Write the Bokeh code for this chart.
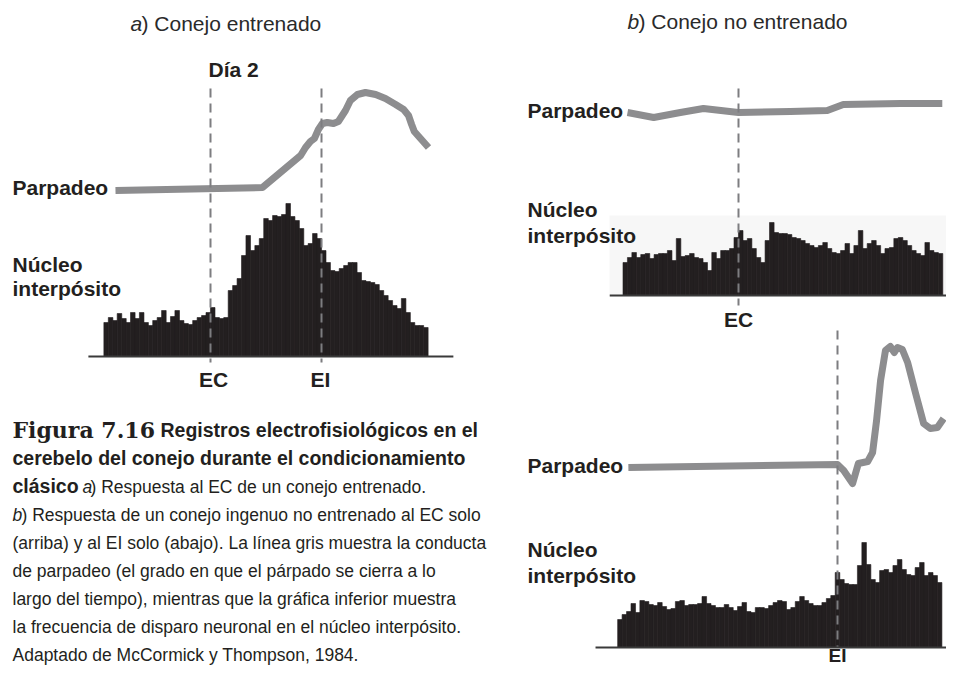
import numpy as np
from bokeh.plotting import figure
from bokeh.models import Range1d
from bokeh.core.properties import value
from bokeh.embed import file_html
from bokeh.resources import INLINE

# ------------------------------------------------------------------ data
BIN_MS = 10  # histogram bin width (ms)

# a) trained rabbit, CS at 0 ms, US at 250 ms
a_events_ms = [0, 250]
a_event_labels = ["EC", "EI"]
a_blink_t = [-214, 117, 203, 214, 225, 234, 243, 252, 263, 277, 288, 304,
             315, 331, 349, 372, 394, 417, 435, 446, 453, 459, 471, 491]
a_blink_amp = [0, 0.3, 3.5, 4.3, 4.9, 5.2, 6.1, 6.7, 6.8, 6.7, 6.9, 8.0,
               9.0, 9.6, 9.8, 9.6, 9.2, 8.6, 8.1, 7.5, 6.6, 5.9, 5.3, 4.3]
a_hist_start_ms = -240
a_hist_rate = [17, 19.5, 18, 21.5, 19, 17, 22, 19, 22, 17,
               15.5, 18, 19.5, 23, 17, 20, 23, 18, 16.5, 16,
               18, 19.5, 20.5, 22, 24.5, 19.5, 19, 19.5, 33, 35.5,
               39, 50.5, 60.5, 53, 55.5, 59, 69, 68, 70.5, 70,
               71, 76.5, 70, 68, 64, 55.5, 56.5, 61.5, 59, 53,
               47, 43, 42.5, 44, 45.5, 47, 47, 42, 38, 37.5,
               37, 36, 33, 30.5, 28, 25.5, 24, 29, 22, 17,
               15.5, 15.5, 14.5]

# b) untrained rabbit, CS alone (top): CS at 0 ms
bt_events_ms = [0]
bt_event_labels = ["EC"]
bt_blink_t = [-250, -191, -131, -79, 0, 117, 200, 236, 365, 459]
bt_blink_amp = [0, -0.5, 0, 0.4, 0, 0.1, 0.2, 0.8, 0.9, 0.9]
bt_hist_start_ms = -260
bt_hist_rate = [16.5, 19, 21.5, 19, 20.5, 21, 18.5, 20.5, 21, 21,
                22.5, 17.5, 28.5, 19.5, 20, 21, 19, 18.5, 16.5, 12.5,
                21.5, 18.5, 22.5, 22.5, 23.5, 29, 32.5, 27.5, 28.5, 23.5,
                19, 16.5, 27.5, 36.5, 31.5, 31, 31, 30.5, 29, 28.5,
                27.5, 26, 25, 24, 25, 26.5, 23.5, 21.5, 21, 22.5,
                26, 21, 25, 32.5, 23.5, 26, 27.5, 25, 21, 23.5,
                24, 28.5, 29, 27.5, 25, 22.5, 21, 20, 26.5, 22.5,
                21.5, 21]

# b) untrained rabbit, US alone (bottom): US at 0 ms
bb_events_ms = [0]
bb_event_labels = ["EI"]
bb_blink_t = [-471, 0, 14, 34, 47, 68, 79, 88, 97, 108, 119, 128, 135,
              146, 158, 176, 194, 209, 225, 239]
bb_blink_amp = [0, 0.3, -0.3, -1.6, 0.4, 0.6, 1.5, 4.7, 8.7, 11.7, 12.1,
                11.5, 12.0, 11.8, 10.5, 7.4, 4.4, 3.9, 4.0, 4.9]
bb_hist_start_ms = -495
bb_hist_rate = [14, 16.5, 18, 22, 17.5, 23.5, 23, 21.5, 21, 22.5,
                20.5, 19, 19.5, 23, 23.5, 21, 21.5, 21.5, 22, 25.5,
                22, 21, 20, 20, 21.5, 20, 18.5, 20.5, 22.5, 18,
                17.5, 20, 20, 19.5, 21, 22.5, 23.5, 23, 19, 20,
                23, 25.5, 23.5, 22, 21, 21, 22.5, 24.5, 26, 37.5,
                34, 32, 31.5, 31.5, 41, 52.5, 41.5, 34, 32.5, 38.5,
                39, 37.5, 41, 44, 39, 36.5, 36, 40, 42.5, 36,
                37.5, 36, 32.5]

title_a = ("a", ") Conejo entrenado")
title_b = ("b", ") Conejo no entrenado")
day_label = "Día 2"
lbl_blink = "Parpadeo"
lbl_nucleus = ("Núcleo", "interpósito")

caption = [
    [("Figura 7.16", "fig"), ("Registros electrofisiológicos en el", "bold")],
    [("cerebelo del conejo durante el condicionamiento", "bold")],
    [("clásico", "bold"), ("a", "italic"), (") Respuesta al EC de un conejo entrenado.", "normal")],
    [("b", "italic"), (") Respuesta de un conejo ingenuo no entrenado al EC solo", "normal")],
    [("(arriba) y al EI solo (abajo). La línea gris muestra la conducta", "normal")],
    [("de parpadeo (el grado en que el párpado se cierra a lo", "normal")],
    [("largo del tiempo), mientras que la gráfica inferior muestra", "normal")],
    [("la frecuencia de disparo neuronal en el núcleo interpósito.", "normal")],
    [("Adaptado de McCormick y Thompson, 1984.", "normal")],
]

# ------------------------------------------------------------------ layout
W, H = 946, 667
PX0, PX1 = 0, W          # picture-pixel span of the frame (x)
PY_TOP, PY_BOT = 0, H    # picture-pixel span of the frame (y)
PX_PER_MS = 111 / 250.0
TEXT_SHIFT = 0.36        # measured baseline offset of svg text, in em

INK = "#231f20"
BLINK = "#8d8d8f"
DASH = "#7d7d80"
SANS = "Liberation Sans"
SERIF = "DejaVu Serif"


def xr(p_zero):
    """time range (ms) so that t=0 sits at picture pixel p_zero"""
    return Range1d((PX0 - p_zero) / PX_PER_MS, (PX1 - p_zero) / PX_PER_MS)


def yr(p_zero, px_per_unit):
    """value range so that 0 sits at picture pixel p_zero (upwards positive)"""
    return Range1d((p_zero - PY_BOT) / px_per_unit, (p_zero - PY_TOP) / px_per_unit)


p = figure(width=W, height=H, x_range=Range1d(PX0, PX1), y_range=Range1d(PY_BOT, PY_TOP),
           x_axis_type=None, y_axis_type=None, output_backend="svg",
           toolbar_location=None, min_border=0, title=None)
p.grid.visible = False
p.outline_line_color = None
p.background_fill_color = "white"
p.border_fill_color = "white"

panels = {
    "a": dict(t0=210, blink0=190, hist0=356, events=a_events_ms, t=a_blink_t, amp=a_blink_amp,
              hstart=a_hist_start_ms, rate=a_hist_rate, base=(-275, 547), dash=(88, 362)),
    "bt": dict(t0=738, blink0=112, hist0=295, events=bt_events_ms, t=bt_blink_t, amp=bt_blink_amp,
               hstart=bt_hist_start_ms, rate=bt_hist_rate, base=(-290, 520), dash=(88, 305)),
    "bb": dict(t0=837, blink0=467, hist0=647, events=bb_events_ms, t=bb_blink_t, amp=bb_blink_amp,
               hstart=bb_hist_start_ms, rate=bb_hist_rate, base=(-545, 300), dash=(330, 646)),
}

# faint scan background behind the top-right histogram
p.quad(left=[609], right=[PX1], top=[215], bottom=[296], fill_color="#f7f7f7", line_color=None)

for name, d in panels.items():
    p.extra_x_ranges["t_" + name] = xr(d["t0"])
    p.extra_y_ranges["b_" + name] = yr(d["blink0"], 10.0)
    p.extra_y_ranges["h_" + name] = yr(d["hist0"], 2.0)

    rate = np.array(d["rate"], dtype=float)
    centers = d["hstart"] + BIN_MS * (np.arange(len(rate)) + 0.5)
    p.vbar(x=centers, top=rate, bottom=0, width=BIN_MS * 1.03, fill_color=INK,
           line_color=INK, line_width=0.6, x_range_name="t_" + name, y_range_name="h_" + name)
    p.line(x=list(d["base"]), y=[0, 0], line_color="#3a3a3a", line_width=2.2,
           x_range_name="t_" + name, y_range_name="h_" + name)
    p.line(x=d["t"], y=d["amp"], line_color=BLINK, line_width=7, line_join="round",
           x_range_name="t_" + name, y_range_name="b_" + name)

for name, d in panels.items():
    n = len(d["events"])
    p.segment(x0=d["events"], x1=d["events"], y0=[d["dash"][0]] * n, y1=[d["dash"][1]] * n,
              line_color=DASH, line_width=2, line_dash="9 6", x_range_name="t_" + name)


def label(x, y, txt, size=21, style="bold", font=SANS, color=INK, align="left"):
    p.text(x=[x], y=[y - TEXT_SHIFT * size], text=[txt], text_font=value(font),
           text_font_size=f"{size}px", text_font_style=style, text_color=color,
           text_align=align, text_baseline="alphabetic")


# titles
label(130, 31, title_a[0], style="italic", color="#2a2a2a")
label(141, 31, title_a[1], style="normal", color="#2a2a2a")
label(627, 29, title_b[0], style="italic", color="#2a2a2a")
label(638, 29, title_b[1], style="normal", color="#2a2a2a")
label(208, 77, day_label)

# row labels
label(12, 195, lbl_blink)
label(12, 272, lbl_nucleus[0])
label(12, 296, lbl_nucleus[1])
label(527, 118, lbl_blink)
label(527, 217, lbl_nucleus[0])
label(527, 243, lbl_nucleus[1])
label(527, 473, lbl_blink)
label(527, 557, lbl_nucleus[0])
label(527, 583, lbl_nucleus[1])

# event labels (below each panel)
label(213, 387, a_event_labels[0], align="center")
label(320, 387, a_event_labels[1], align="center")
label(738, 327, bt_event_labels[0], align="center")
label(837, 662, bb_event_labels[0], size=19, align="center")

# caption
cap_x = {(0, 0): 12, (0, 1): 160, (1, 0): 12, (2, 0): 12, (2, 1): 82, (2, 2): 90,
         (3, 0): 12, (3, 1): 21}
styles = {
    "fig": dict(font=SERIF, style="bold", size=22),
    "bold": dict(font=SANS, style="bold", size=19.5),
    "italic": dict(font=SANS, style="italic", size=17.5),
    "normal": dict(font=SANS, style="normal", size=17.5),
}
for i, line in enumerate(caption):
    y = 437 + 28 * i
    for j, (txt, kind) in enumerate(line):
        x = cap_x.get((i, j), 12)
        s = styles[kind]
        label(x, y, txt, size=s["size"], style=s["style"], font=s["font"], color=INK)

open("out.html", "w").write(file_html(p, INLINE))
